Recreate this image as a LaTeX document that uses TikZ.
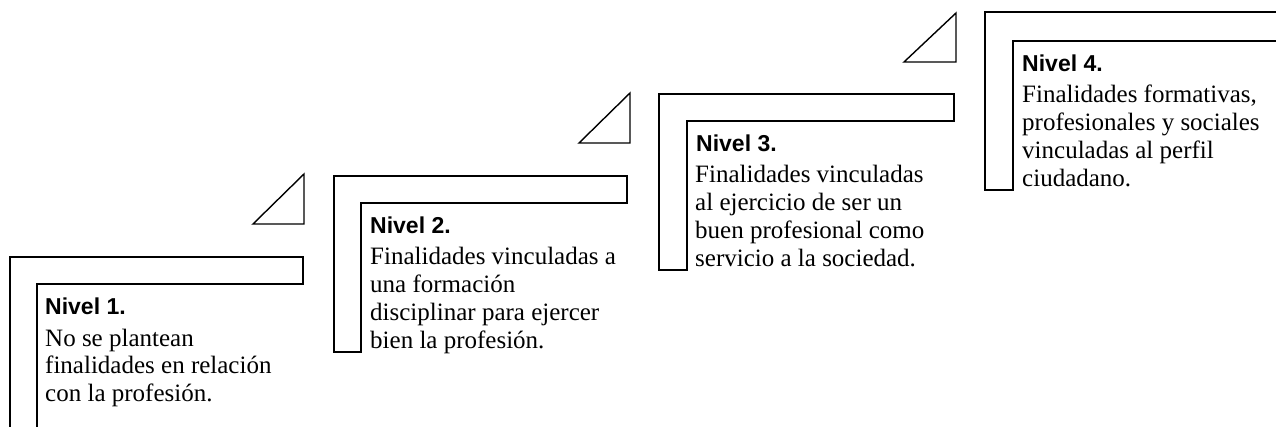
\documentclass[tikz,border=0pt]{standalone}
\usepackage{fontspec}
\setmainfont{Liberation Serif}
\newfontfamily\headfont{Liberation Sans}
\usepackage{tikz}
\tikzstyle{stair}=[draw=black,line width=1.6pt,line join=miter]
\tikzstyle{corner}=[draw=black,line width=1.4pt]
\tikzstyle{heading}=[anchor=base west,inner sep=0pt,font=\headfont\bfseries\fontsize{23}{26}\selectfont]
\tikzstyle{body}=[anchor=base west,inner sep=0pt,align=left,font=\fontsize{25}{27.7}\selectfont]

\begin{document}
\begin{tikzpicture}[x=1pt,y=-1pt]
        \clip (0,0) rectangle (1276,427);
        \draw[stair] (10,257) -- (303,257) -- (303,284) -- (37,284) -- (37,434) -- (10,434) -- cycle;
        \draw[stair] (334,176) -- (627,176) -- (627,203) -- (361,203) -- (361,352) -- (334,352) -- cycle;
        \draw[stair] (659,94) -- (954,94) -- (954,121) -- (687,121) -- (687,270) -- (659,270) -- cycle;
        \draw[stair] (985,12) -- (1290,12) -- (1290,41) -- (1013,41) -- (1013,190) -- (985,190) -- cycle;
        \draw[corner] (253,224) -- (304,224) -- (304,174) -- cycle;
        \draw[corner] (579,143) -- (630,143) -- (630,93) -- cycle;
        \draw[corner] (904,62) -- (956,62) -- (956,13) -- cycle;
        \node at (45,315) [heading] (H1) {Nivel 1.};
        \node at (45,401.4) [body] (T1) {No se plantean\\finalidades en relación\\con la profesión.};
        \node at (370,234) [heading] (H2) {Nivel 2.};
        \node at (370,348.1) [body] (T2) {Finalidades vinculadas a\\una formación\\disciplinar para ejercer\\bien la profesión.};
        \node at (696,152) [heading] (H3) {Nivel 3.};
        \node at (695,266.1) [body] (T3) {Finalidades vinculadas\\al ejercicio de ser un\\buen profesional como\\servicio a la sociedad.};
        \node at (1022,72) [heading] (H4) {Nivel 4.};
        \node at (1022,186.1) [body] (T4) {Finalidades formativas,\\profesionales y sociales\\vinculadas al perfil\\ciudadano.};
      \end{tikzpicture}
\end{document}
